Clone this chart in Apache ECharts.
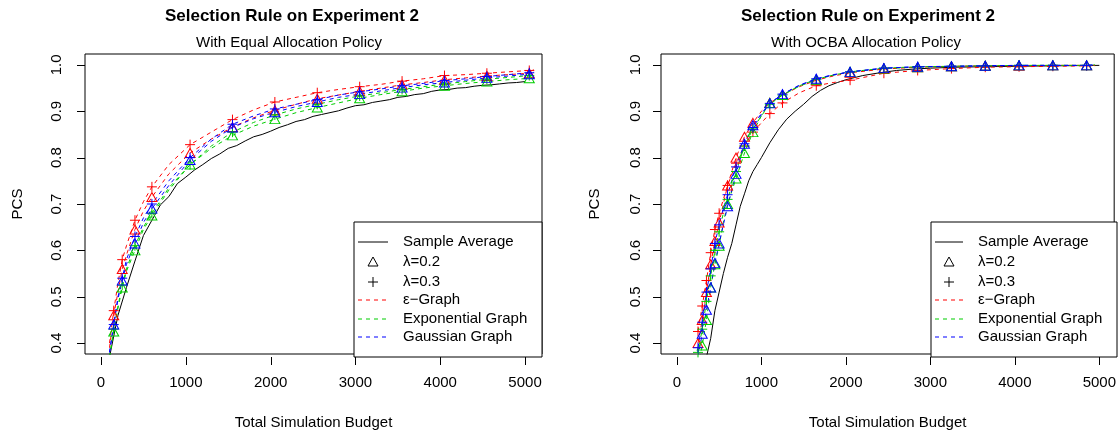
<!DOCTYPE html>
<html>
<head>
<meta charset="utf-8">
<script src="https://cdn.jsdelivr.net/npm/echarts@6/dist/echarts.min.js"></script>
<style>
  html, body { margin: 0; padding: 0; background: #fff; }
  #chart { width: 1119px; height: 435px; }
</style>
</head>
<body>
<div id="chart"></div>
<script>
// ---- left panel: equal allocation ----
var budgetL = [100, 150, 200, 250, 300, 400, 500, 600, 800, 1050, 1300, 1550, 1800, 2050, 2300, 2550, 2800, 3050, 3300, 3550, 3800, 4050, 4300, 4550, 4800, 5050, 5100]
var markL = [150, 250, 400, 600, 1050, 1550, 2050, 2550, 3050, 3550, 4050, 4550, 5050]
var eps02L = [0.39, 0.46, 0.51, 0.56, 0.59, 0.645, 0.685, 0.715, 0.765, 0.81, 0.84, 0.866, 0.886, 0.902, 0.915, 0.927, 0.935, 0.943, 0.95, 0.957, 0.962, 0.968, 0.972, 0.976, 0.979, 0.982, 0.983]
var eps03L = [0.40, 0.47, 0.53, 0.58, 0.61, 0.665, 0.705, 0.737, 0.785, 0.828, 0.855, 0.882, 0.903, 0.92, 0.93, 0.94, 0.947, 0.953, 0.958, 0.965, 0.97, 0.977, 0.979, 0.982, 0.985, 0.988, 0.99]
var exp02L = [0.37, 0.425, 0.475, 0.52, 0.555, 0.60, 0.645, 0.675, 0.73, 0.785, 0.82, 0.848, 0.868, 0.883, 0.897, 0.908, 0.918, 0.928, 0.936, 0.943, 0.95, 0.955, 0.96, 0.964, 0.968, 0.971, 0.972]
var exp03L = [0.37, 0.43, 0.48, 0.525, 0.56, 0.61, 0.65, 0.68, 0.735, 0.785, 0.825, 0.855, 0.876, 0.892, 0.905, 0.915, 0.925, 0.933, 0.94, 0.947, 0.953, 0.959, 0.964, 0.969, 0.973, 0.977, 0.978]
var gau02L = [0.38, 0.44, 0.495, 0.535, 0.57, 0.615, 0.66, 0.69, 0.74, 0.795, 0.835, 0.865, 0.884, 0.898, 0.91, 0.92, 0.93, 0.937, 0.944, 0.951, 0.957, 0.962, 0.967, 0.972, 0.976, 0.98, 0.981]
var gau03L = [0.38, 0.44, 0.50, 0.54, 0.58, 0.63, 0.67, 0.70, 0.75, 0.80, 0.84, 0.872, 0.89, 0.905, 0.915, 0.925, 0.935, 0.942, 0.948, 0.955, 0.96, 0.966, 0.97, 0.975, 0.979, 0.983, 0.984]
var avgBudgetL = [100, 200, 300, 400, 500, 600, 700, 800, 900, 1000, 1100, 1200, 1300, 1400, 1500, 1600, 1700, 1800, 1900, 2000, 2100, 2200, 2300, 2400, 2500, 2600, 2700, 2800, 2900, 3000, 3100, 3200, 3300, 3400, 3500, 3600, 3700, 3800, 3900, 4000, 4100, 4200, 4300, 4400, 4500, 4600, 4700, 4800, 4900, 5000]
var avgL = [0.37, 0.46, 0.52, 0.577, 0.632, 0.665, 0.698, 0.716, 0.744, 0.758, 0.773, 0.785, 0.798, 0.808, 0.82, 0.826, 0.836, 0.845, 0.85, 0.857, 0.865, 0.871, 0.878, 0.882, 0.889, 0.893, 0.897, 0.901, 0.907, 0.912, 0.914, 0.919, 0.922, 0.925, 0.93, 0.932, 0.936, 0.938, 0.943, 0.946, 0.947, 0.95, 0.951, 0.954, 0.956, 0.957, 0.959, 0.961, 0.962, 0.964]

// ---- right panel: OCBA allocation ----
var budgetR = [250, 300, 350, 400, 450, 500, 550, 600, 700, 800, 900, 1000, 1100, 1250, 1450, 1650, 1850, 2050, 2450, 2850, 3250, 3650, 4050, 4450, 4850, 4950]
var markR = [250, 300, 350, 400, 450, 500, 600, 700, 800, 900, 1100, 1250, 1650, 2050, 2450, 2850, 3250, 3650, 4050, 4450, 4850]
var eps02R = [0.40, 0.45, 0.51, 0.57, 0.62, 0.66, 0.70, 0.74, 0.80, 0.845, 0.875, 0.90, 0.918, 0.935, 0.953, 0.967, 0.976, 0.983, 0.991, 0.995, 0.997, 0.998, 0.998, 0.999, 0.999, 0.999]
var eps03R = [0.425, 0.48, 0.535, 0.595, 0.645, 0.68, 0.71, 0.74, 0.788, 0.825, 0.855, 0.875, 0.895, 0.918, 0.94, 0.955, 0.962, 0.967, 0.982, 0.988, 0.992, 0.995, 0.996, 0.997, 0.998, 0.998]
var exp02R = [0.35, 0.395, 0.45, 0.52, 0.57, 0.61, 0.66, 0.70, 0.755, 0.81, 0.855, 0.89, 0.918, 0.935, 0.954, 0.968, 0.978, 0.985, 0.992, 0.995, 0.997, 0.998, 0.999, 0.999, 0.999, 0.999]
var exp03R = [0.38, 0.43, 0.49, 0.545, 0.60, 0.64, 0.68, 0.71, 0.77, 0.825, 0.862, 0.89, 0.915, 0.935, 0.955, 0.969, 0.978, 0.985, 0.993, 0.996, 0.997, 0.998, 0.999, 0.999, 0.999, 1.0]
var gau02R = [0.37, 0.42, 0.472, 0.52, 0.573, 0.615, 0.655, 0.695, 0.765, 0.83, 0.87, 0.895, 0.917, 0.937, 0.956, 0.97, 0.978, 0.985, 0.993, 0.996, 0.997, 0.998, 0.999, 0.999, 0.999, 1.0]
var gau03R = [0.39, 0.445, 0.51, 0.56, 0.615, 0.655, 0.69, 0.72, 0.78, 0.83, 0.865, 0.893, 0.917, 0.937, 0.956, 0.97, 0.979, 0.985, 0.993, 0.996, 0.997, 0.998, 0.999, 0.999, 0.999, 1.0]
var avgBudgetR = [350, 400, 450, 500, 550, 600, 650, 700, 750, 800, 850, 900, 950, 1000, 1100, 1200, 1300, 1400, 1500, 1600, 1700, 1800, 1900, 2000, 2200, 2400, 2600, 2800, 3000, 3300, 3600, 4000, 4500, 5000]
var avgR = [0.37, 0.41, 0.47, 0.51, 0.55, 0.585, 0.615, 0.655, 0.695, 0.722, 0.75, 0.77, 0.785, 0.80, 0.832, 0.86, 0.883, 0.90, 0.915, 0.932, 0.945, 0.955, 0.962, 0.968, 0.977, 0.983, 0.988, 0.991, 0.993, 0.995, 0.996, 0.997, 0.998, 0.999]

var xTicks = [0, 1000, 2000, 3000, 4000, 5000]
var yTicks = [0.4, 0.5, 0.6, 0.7, 0.8, 0.9, 1.0]
var titles = ['Selection Rule on Experiment 2', 'Selection Rule on Experiment 2']
var subtitles = ['With Equal Allocation Policy', 'With OCBA Allocation Policy']
var legendNames = ['Sample Average', 'λ=0.2', 'λ=0.3', 'ε−Graph', 'Exponential Graph', 'Gaussian Graph']

var FONT = 'Liberation Sans, Arial, sans-serif'
var RED = '#ff0000'
var GREEN = '#00cd00'
var BLUE = '#0000ff'
var TRI = 'path://M5,0 L10,9 L0,9 Z'
var PLUS = 'path://M0,5 L10,5 M5,0 L5,10'
var YMIN = 0.3765
var YMAX = 1.0235
var XRANGE = [[-189, 5200], [-188, 5176]]
var GRIDS = [
  { left: 85, top: 54, width: 457, height: 303 },
  { left: 661, top: 54, width: 456, height: 303 }
]

function pairs(xs, ys) {
  return xs.map(function(x, i) { return [x, ys[i]] })
}

function curve(name, xs, ys, marks, color, shape, gi) {
  return {
    name: name,
    type: 'line',
    xAxisIndex: gi,
    yAxisIndex: gi,
    data: pairs(xs, ys),
    symbol: shape,
    symbolSize: function(v) {
      return marks.indexOf(v[0]) >= 0 ? (shape === TRI ? [10, 9] : [10, 10]) : 0
    },
    showAllSymbol: true,
    itemStyle: { color: 'rgba(0,0,0,0)', borderColor: color, borderWidth: 1 },
    lineStyle: { color: color, width: 1, type: [4, 4] },
    emphasis: { disabled: true },
    silent: true
  }
}

function average(xs, ys, gi) {
  return {
    name: 'Sample Average',
    type: 'line',
    xAxisIndex: gi,
    yAxisIndex: gi,
    data: pairs(xs, ys),
    showSymbol: false,
    lineStyle: { color: '#000', width: 1 },
    emphasis: { disabled: true },
    silent: true
  }
}

function xAxis(gi) {
  return {
    type: 'value',
    gridIndex: gi,
    min: XRANGE[gi][0],
    max: XRANGE[gi][1],
    axisLine: { show: false, onZero: false },
    splitLine: { show: false },
    axisTick: { show: false },
    axisLabel: {
      customValues: xTicks,
      margin: 21,
      fontSize: 15,
      color: '#000',
      fontFamily: FONT,
      formatter: function(v) { return String(v) }
    },
    name: 'Total Simulation Budget',
    nameLocation: 'middle',
    nameGap: 61,
    nameTextStyle: { fontSize: 15, color: '#000', fontFamily: FONT }
  }
}

function yAxis(gi, margin, gap) {
  return {
    type: 'value',
    gridIndex: gi,
    min: YMIN,
    max: YMAX,
    axisLine: { show: false, onZero: false },
    splitLine: { show: false },
    axisTick: { show: false },
    axisLabel: {
      customValues: yTicks,
      rotate: 90,
      margin: margin,
      fontSize: 15,
      color: '#000',
      fontFamily: FONT,
      formatter: function(v) { return v.toFixed(1) }
    },
    name: 'PCS',
    nameLocation: 'middle',
    nameGap: gap,
    nameRotate: 90,
    nameTextStyle: { fontSize: 15, color: '#000', fontFamily: FONT }
  }
}

// legend drawn like the R legend box
function legendBox(x0, y0, w, h, lx1, lx2, tx, rows) {
  var els = [{
    type: 'rect', z: 100,
    shape: { x: x0, y: y0, width: w, height: h },
    style: { fill: '#fff', stroke: '#000', lineWidth: 1 }
  }]
  var cx = (lx1 + lx2) / 2
  var lineColors = [null, null, null, RED, GREEN, BLUE]
  rows.forEach(function(y, i) {
    if (i === 0) {
      els.push({ type: 'line', z: 101, shape: { x1: lx1, y1: y, x2: lx2, y2: y }, style: { stroke: '#000', lineWidth: 1 } })
    } else if (i === 1) {
      els.push({ type: 'polygon', z: 101, shape: { points: [[cx, y - 5], [cx + 5, y + 4], [cx - 5, y + 4]] }, style: { fill: 'none', stroke: '#000', lineWidth: 1 } })
    } else if (i === 2) {
      els.push({ type: 'line', z: 101, shape: { x1: cx - 5, y1: y, x2: cx + 5, y2: y }, style: { stroke: '#000', lineWidth: 1 } })
      els.push({ type: 'line', z: 101, shape: { x1: cx, y1: y - 5, x2: cx, y2: y + 5 }, style: { stroke: '#000', lineWidth: 1 } })
    } else {
      els.push({ type: 'line', z: 101, shape: { x1: lx1, y1: y, x2: lx2, y2: y }, style: { stroke: lineColors[i], lineWidth: 1, lineDash: [4, 4] } })
    }
    els.push({
      type: 'text', z: 101,
      style: { text: legendNames[i], x: tx, y: y, fill: '#000', font: '15px ' + FONT, verticalAlign: 'middle', align: 'left' }
    })
  })
  return els
}

// pixel position of a value on a grid, via the chart's own converter
function toPx(gi, x, y) {
  var p = chart.convertToPixel({ gridIndex: gi }, [x, y])
  if (p && isFinite(p[0]) && isFinite(p[1])) return p
  var g = GRIDS[gi]
  return [
    g.left + (x - XRANGE[gi][0]) / (XRANGE[gi][1] - XRANGE[gi][0]) * g.width,
    g.top + (YMAX - y) / (YMAX - YMIN) * g.height
  ]
}

// outward R-style ticks
function tickMarks(gi) {
  var els = []
  var g = GRIDS[gi]
  var bottom = g.top + g.height
  var left = g.left
  xTicks.forEach(function(v) {
    var px = Math.round(toPx(gi, v, YMIN)[0]) + 0.5
    els.push({ type: 'line', z: 120, shape: { x1: px, y1: bottom, x2: px, y2: bottom + 8 }, style: { stroke: '#000', lineWidth: 1 } })
  })
  yTicks.forEach(function(v) {
    var py = Math.round(toPx(gi, XRANGE[gi][0], v)[1]) + 0.5
    els.push({ type: 'line', z: 120, shape: { x1: left - 8, y1: py, x2: left, y2: py }, style: { stroke: '#000', lineWidth: 1 } })
  })
  return els
}

var chart = echarts.init(document.getElementById('chart'))
chart.setOption({
  animation: false,
  title: [
    { text: titles[0], left: 292, top: 8, textAlign: 'center', padding: 0, textStyle: { fontSize: 17, fontWeight: 'bold', color: '#000', fontFamily: FONT } },
    { text: subtitles[0], left: 289, top: 35, textAlign: 'center', padding: 0, textStyle: { fontSize: 15, fontWeight: 'normal', color: '#000', fontFamily: FONT } },
    { text: titles[1], left: 868, top: 8, textAlign: 'center', padding: 0, textStyle: { fontSize: 17, fontWeight: 'bold', color: '#000', fontFamily: FONT } },
    { text: subtitles[1], left: 866, top: 35, textAlign: 'center', padding: 0, textStyle: { fontSize: 15, fontWeight: 'normal', color: '#000', fontFamily: FONT } }
  ],
  grid: GRIDS.map(function(g) {
    return { left: g.left, top: g.top, width: g.width, height: g.height, show: true, borderColor: '#000', borderWidth: 1 }
  }),
  xAxis: [xAxis(0), xAxis(1)],
  yAxis: [yAxis(0, 21, 60), yAxis(1, 18, 59)],
  series: [
    average(avgBudgetL, avgL, 0),
    curve('ε−Graph λ=0.2', budgetL, eps02L, markL, RED, TRI, 0),
    curve('ε−Graph λ=0.3', budgetL, eps03L, markL, RED, PLUS, 0),
    curve('Exponential Graph λ=0.2', budgetL, exp02L, markL, GREEN, TRI, 0),
    curve('Exponential Graph λ=0.3', budgetL, exp03L, markL, GREEN, PLUS, 0),
    curve('Gaussian Graph λ=0.2', budgetL, gau02L, markL, BLUE, TRI, 0),
    curve('Gaussian Graph λ=0.3', budgetL, gau03L, markL, BLUE, PLUS, 0),
    average(avgBudgetR, avgR, 1),
    curve('ε−Graph λ=0.2', budgetR, eps02R, markR, RED, TRI, 1),
    curve('ε−Graph λ=0.3', budgetR, eps03R, markR, RED, PLUS, 1),
    curve('Exponential Graph λ=0.2', budgetR, exp02R, markR, GREEN, TRI, 1),
    curve('Exponential Graph λ=0.3', budgetR, exp03R, markR, GREEN, PLUS, 1),
    curve('Gaussian Graph λ=0.2', budgetR, gau02R, markR, BLUE, TRI, 1),
    curve('Gaussian Graph λ=0.3', budgetR, gau03R, markR, BLUE, PLUS, 1)
  ]
})

chart.setOption({
  graphic: legendBox(354, 222, 188, 135, 358, 388, 403, [242, 262, 282, 300, 319, 337])
    .concat(legendBox(931, 222, 186, 135, 935, 963, 978, [242, 262, 282, 300, 319, 337]))
    .concat(tickMarks(0))
    .concat(tickMarks(1))
})
</script>
</body>
</html>
